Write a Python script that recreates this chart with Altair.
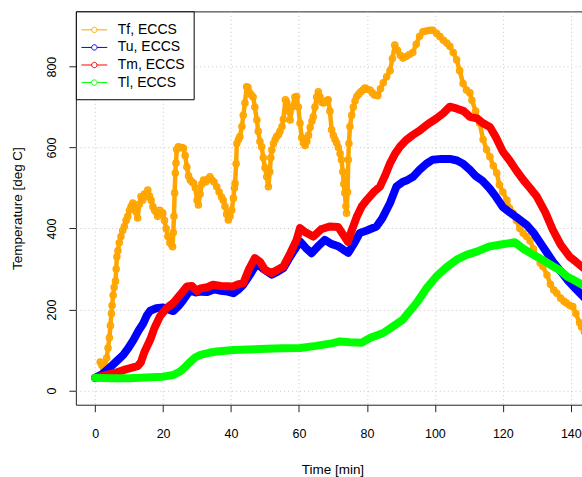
import altair as alt
import pandas as pd

# ---------------- data ----------------
tf_t = [1.5, 2.0, 2.5, 3.0, 3.4, 3.8, 4.2, 4.5, 4.8, 5.0, 5.3, 5.6, 6.0, 6.2, 6.4, 6.7, 7.1, 7.6, 8.1, 8.6,
        9.1, 9.6, 10.1, 10.6, 11.1, 11.6, 12.1, 12.5, 13.0, 13.5, 14.0, 14.5, 15.0, 15.5, 16.0, 16.5, 17.0,
        17.5, 18.0, 18.4, 19.0, 19.5, 19.9, 20.4, 20.9, 21.4, 22.0, 22.5, 22.8, 23.0, 23.2, 23.4, 23.6, 23.8,
        24.0, 24.5, 25.0, 25.5, 26.0, 26.5, 27.0, 27.5, 28.0, 28.5, 29.0, 29.5, 30.0, 30.4, 30.9, 31.4, 31.9,
        32.5, 33.2, 33.8, 34.4, 35.0, 35.8, 36.5, 37.2, 37.7, 38.2, 38.7, 39.2, 39.7, 40.2, 40.7, 41.0, 41.2,
        41.5, 41.7, 42.2, 42.6, 43.2, 43.6, 44.1, 44.6, 45.0, 45.5, 46.0, 46.5, 47.0, 47.6, 48.0, 48.5, 49.0,
        49.5, 50.0, 50.5, 51.0, 51.4, 51.7, 52.0, 52.5, 53.0, 53.4, 54.0, 54.4, 55.0, 55.4, 56.0, 56.4, 57.0,
        57.4, 58.0, 58.8, 59.3, 59.8, 60.3, 60.8, 61.3, 61.8, 62.3, 62.8, 63.3, 63.8, 64.2, 64.7, 65.2, 65.7,
        66.2, 66.7, 67.2, 67.7, 68.2, 68.6, 69.1, 69.6, 70.1, 70.6, 71.1, 71.6, 72.1, 72.5, 72.9, 73.2, 73.5,
        73.8, 74.0, 74.3, 74.5, 74.7, 75.0, 75.5, 76.0, 76.5, 77.0, 77.6, 78.2, 78.8, 79.4, 80.0, 80.9, 81.6,
        82.2, 82.8, 83.2, 84.0, 84.8, 85.8, 86.8, 87.5, 88.2, 89.0, 89.8, 90.6, 91.5, 92.5, 93.5, 94.5, 95.5,
        96.5, 97.5, 98.5, 99.4, 100.5, 101.5, 102.5, 103.5, 104.4, 105.4, 106.4, 107.3, 108.3, 109.3, 110.3,
        110.9, 112.0, 113.2, 114.2, 115.2, 116.2, 117.2, 118.2, 119.0, 120.0, 121.2, 122.0, 123.0, 124.0,
        125.0, 126.0, 127.0, 128.0, 129.0, 130.0, 131.0, 131.8, 133.0, 134.0, 135.0, 135.9, 137.0, 138.0,
        138.7, 139.7, 140.6, 141.5, 142.6, 143.2, 144.0, 145.0]
tf_v = [70, 62, 55, 60, 80, 105, 130, 160, 190, 210, 235, 255, 270, 300, 330, 345, 365, 380, 395, 405,
        420, 430, 445, 455, 463, 450, 440, 426, 460, 479, 470, 485, 480, 495, 480, 470, 454,
        445, 440, 430, 445, 440, 438, 420, 400, 380, 365, 360, 355, 390, 430, 488, 537, 562,
        595, 602, 600, 600, 598, 580, 552, 530, 520, 515, 512, 500, 470, 458, 485, 510, 520,
        515, 522, 528, 520, 515, 503, 490, 478, 470, 455, 435, 421, 430, 445, 475, 500, 512,
        560, 610, 620, 627, 652, 680, 710, 750, 748, 735, 730, 725, 700, 668, 640, 615, 602,
        575, 550, 528, 503, 540, 575, 594, 610, 620, 627, 632, 640, 652, 670, 718, 712, 690,
        668, 700, 725, 726, 700, 660, 625, 612, 605, 615, 630, 650, 665, 676, 700, 725, 738,
        725, 712, 710, 712, 716, 718, 690, 644, 630, 620, 611, 600, 585, 570, 540, 510, 488,
        455, 438, 490, 570, 610, 652, 680, 700, 715, 726, 732, 738, 742, 747, 744, 742, 735,
        730, 730, 728, 745, 760, 775, 790, 820, 853, 840, 828, 821, 825, 830, 835, 855, 875,
        886, 888, 890, 890, 882, 874, 865, 858, 850, 835, 817, 790, 758, 742, 735,
        717, 690, 660, 620, 595, 577, 555, 537, 508, 490, 470, 450, 438, 420,
        400, 388, 380, 370, 350, 330, 315, 306, 285, 262, 248, 240, 228, 220,
        216, 210, 207, 190, 167, 157, 145, 130]

tu_t = [0, 2, 4.4, 6.3, 8.3, 9.8, 11.3, 12.8, 14.2, 15.2, 16.2, 18, 20, 21.5, 23, 24.5, 26, 28, 29.5, 31,
        33, 35, 37, 39, 40.7, 42, 43.6, 45.5, 47.6, 49.5, 52, 53.5, 55.4, 57, 58.5, 60.3, 62, 63.7, 65.5,
        67.6, 69.5, 71.6, 73, 74.5, 76, 77.9, 80, 82.8, 84.5, 86.8, 88.7, 90.5, 92, 93.6, 95.5, 97.5, 99.4,
        102, 104.4, 106.5, 108.3, 110.3, 112, 114, 116, 118, 120, 122, 124, 127, 129, 131, 133, 135, 137,
        139, 141, 143.2, 145]
tu_v = [31, 40, 57, 72, 88, 105, 125, 148, 166, 185, 197, 203, 205, 200, 196, 208, 224, 248, 242, 244,
        243, 250, 246, 244, 240, 248, 261, 285, 314, 300, 286, 292, 302, 325, 345, 368, 352, 339, 355,
        372, 362, 356, 348, 340, 360, 389, 395, 405, 425, 463, 504, 515, 520, 528, 545, 560, 570,
        572, 572, 568, 560, 545, 530, 518, 500, 478, 453, 440, 428, 409, 390, 365, 340, 315, 295,
        273, 255, 236, 220]

tm_t = [0, 3, 6.2, 9, 12.5, 13.5, 14.5, 16.2, 17.5, 19.1, 21, 23, 25, 27, 28.5, 30, 31, 33, 34.7, 37,
        40.6, 42, 43.6, 45.3, 47, 48.5, 50, 52, 53.7, 55.4, 57.5, 59.3, 60.3, 62, 64.2, 66.5, 69, 71.5, 73,
        74.4, 75.5, 77, 78.5, 80, 82, 83.8, 85.3, 86.8, 88.3, 89.7, 91.5, 93.5, 95.5, 97, 98.5, 100.5,
        102.5, 104.4, 106.5, 108.5, 110.3, 112.4, 114, 116.2, 118, 120, 122, 124, 126, 128, 130, 132.5,
        134.7, 137, 139.7, 141.5, 143.2, 145]
tm_v = [31, 38, 44, 52, 60, 70, 95, 125, 155, 183, 203, 216, 236, 257, 258, 245, 252, 255, 261, 258,
        257, 262, 265, 300, 327, 318, 298, 290, 298, 306, 340, 372, 401, 390, 380, 398, 405, 404, 385,
        367, 395, 429, 455, 471, 490, 503, 530, 561, 585, 602, 618, 631, 642, 652, 661, 672,
        685, 701, 696, 690, 676, 672, 661, 651, 625, 590, 568, 543, 520, 500, 479, 440,
        397, 360, 330, 318, 306, 295]

tl_t = [0, 5, 10, 15, 20, 23, 25, 26.5, 28, 29.5, 31, 33.5, 35.8, 40.7, 45, 50.5, 55, 60.3, 65, 70, 72,
        75, 78.4, 81, 84.8, 88, 90.6, 92.5, 94.6, 97.5, 100.5, 103.5, 106.4, 109.3, 112.3, 116.2, 119,
        122, 123.5, 126, 129, 131.8, 134.5, 136.8, 139, 141, 143.2, 145]
tl_v = [31, 30, 30, 32, 34, 38, 47, 58, 71, 82, 88, 93, 96, 100, 101, 103, 104, 105, 110, 117, 121,
        119, 118, 130, 142, 160, 175, 195, 216, 252, 282, 305, 323, 335, 343, 356, 360,
        364, 366, 350, 335, 322, 308, 297, 281, 272, 262, 255]

series_names = ["Tf, ECCS", "Tu, ECCS", "Tm, ECCS", "Tl, ECCS"]
series_colors = ["#FFA500", "#0000FF", "#FF0000", "#00FF00"]
x_ticks = [0, 20, 40, 60, 80, 100, 120, 140]
y_ticks = [0, 200, 400, 600, 800]

# ---------------- table ----------------
rows = []
for name, ts, vs in zip(series_names, [tf_t, tu_t, tm_t, tl_t], [tf_v, tu_v, tm_v, tl_v]):
    for i, (t, v) in enumerate(zip(ts, vs)):
        rows.append({"series": name, "time": t, "temp": v, "idx": i})
df = pd.DataFrame(rows)

FONT = "Liberation Sans"

color_scale = alt.Scale(domain=series_names, range=series_colors)
# legend sample: short line, open circle, short line (unit = 9 px)
sym_path = ("M-1.44,0H-0.3M0.3,0H1.44"
            "M0.3,0A0.3,0.3 0 1 1 -0.3,0A0.3,0.3 0 1 1 0.3,0")
legend = alt.Legend(
    title=None, orient="none", legendX=0, legendY=0,
    symbolType=sym_path, symbolSize=324, symbolStrokeWidth=1,
    symbolFillColor="transparent",
    labelFontSize=14, labelFont=FONT, labelColor="black", labelOffset=14,
    padding=9, rowPadding=0.6, strokeColor="black", fillColor="white",
    cornerRadius=0, labelLimit=200,
)

x_enc = alt.X("time:Q", scale=alt.Scale(domain=[-5.67, 143.3], nice=False, zero=False),
              axis=alt.Axis(values=x_ticks, title="Time [min]", grid=True,
                            gridDash=[1, 3], gridColor="#c8c8c8", gridWidth=1,
                            domain=False, tickSize=7, tickColor="#222", tickWidth=1,
                            labelFontSize=12.5, labelFont=FONT, labelColor="black",
                            labelBaseline="middle", labelPadding=22, labelFlush=False,
                            titleFontSize=13.5, titleFont=FONT, titleFontWeight="normal",
                            titleColor="black", titleX=257, titleY=65,
                            titleBaseline="middle", titleAlign="center"))
y_enc = alt.Y("temp:Q", scale=alt.Scale(domain=[-35.3, 936.4], nice=False, zero=False),
              axis=alt.Axis(values=y_ticks, title="Temperature [deg C]", grid=True,
                            gridDash=[1, 3], gridColor="#c8c8c8", gridWidth=1,
                            domain=False, tickSize=7, tickColor="#222", tickWidth=1,
                            labelFontSize=12.5, labelFont=FONT, labelColor="black",
                            labelAngle=270, labelAlign="center", labelBaseline="middle",
                            labelPadding=17, labelFlush=False,
                            titleFontSize=13.5, titleFont=FONT, titleFontWeight="normal",
                            titleColor="black", titleAngle=270, titleX=-58, titleY=197,
                            titleBaseline="middle", titleAlign="center"))

color_enc = alt.Color("series:N", scale=color_scale, legend=legend)

base = alt.Chart(df)

tf_line = base.transform_filter(alt.datum.series == series_names[0]).mark_line(
    strokeWidth=4.5, strokeJoin="round", strokeCap="round", clip=True).encode(
    x=x_enc, y=y_enc, color=color_enc, order="idx:Q")
tf_pts = base.transform_filter(alt.datum.series == series_names[0]).mark_point(
    shape="circle", filled=False, size=36, strokeWidth=1.6, opacity=1, clip=True).encode(
    x=x_enc, y=y_enc, color=color_enc)

def thick(name):
    return base.transform_filter(alt.datum.series == name).mark_line(
        strokeWidth=8, strokeCap="round", strokeJoin="round", clip=True).encode(
        x=x_enc, y=y_enc, color=color_enc, order="idx:Q")

chart = alt.layer(tf_line, tf_pts, thick(series_names[1]), thick(series_names[2]),
                  thick(series_names[3])).properties(
    width=507, height=394,
    autosize=alt.AutoSizeParams(type="none"),
    padding={"left": 76, "top": 11, "right": 0, "bottom": 72},
    background="white",
).configure_view(stroke="#222", strokeWidth=1)

chart.save("out.html", embed_options={"renderer": "svg", "actions": False})
